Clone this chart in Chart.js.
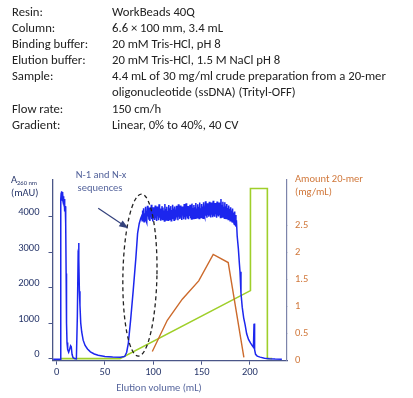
<!DOCTYPE html>
<html>
<head>
<meta charset="utf-8">
<script src="https://cdn.jsdelivr.net/npm/chart.js@4.4.1/dist/chart.umd.min.js"></script>
<style>
    html, body { margin: 0; padding: 0; background: #fff; }
    #page { position: relative; width: 413px; height: 398px; overflow: hidden; }
    #chart { position: absolute; left: 0; top: 0; }
    #conditions {
        position: absolute; left: 12px; top: 4px;
        font-family: Carlito, Lato, sans-serif; font-size: 12.7px; line-height: 16.1px; color: #222;
    }
    #conditions .row { display: flex; white-space: nowrap; }
    #conditions .label { width: 100px; flex: none; }
</style>
</head>
<body>
<div id="page">
    <canvas id="chart" width="413" height="398"></canvas>
    <div id="conditions"></div>
</div>
<script>
const conditions = [
    ['Resin:', 'WorkBeads 40Q'],
    ['Column:', '6.6 × 100 mm, 3.4 mL'],
    ['Binding buffer:', '20 mM Tris-HCl, pH 8'],
    ['Elution buffer:', '20 mM Tris-HCl, 1.5 M NaCl pH 8'],
    ['Sample:', '4.4 mL of 30 mg/ml crude preparation from a 20-mer'],
    ['', 'oligonucleotide (ssDNA) (Trityl-OFF)'],
    ['Flow rate:', '150 cm/h'],
    ['Gradient:', 'Linear, 0% to 40%, 40 CV']
];

const volumeTicks = [0, 50, 100, 150, 200];
const absorbanceTicks = [0, 1000, 2000, 3000, 4000];
const amountTicks = [0, 0.5, 1, 1.5, 2, 2.5];

// A260 trace, [mL, mAU]
const uvTrace = [
    [-3.5, -20], [3.8, -20], [4.2, 1200], [4.5, 4500], [4.8, 4680], [5.1, 4450], [5.4, 4720],
    [5.7, 4560], [6.0, 4700], [6.3, 4480], [6.6, 4650], [6.9, 4420], [7.2, 4580], [7.5, 4350],
    [7.8, 4500], [8.1, 4250], [8.4, 4420], [8.7, 4150], [9.0, 4300], [9.3, 4050], [9.6, 3800],
    [9.9, 2400], [10.3, 1000], [10.8, 450], [11.5, 250], [12.5, 180], [13.5, 260], [14.5, 360],
    [15.2, 330], [16.0, 120], [17.0, 30], [18.5, 0], [20.5, -10], [21.5, 1200], [22.3, 2900],
    [22.8, 3260], [23.2, 2800], [23.6, 1900], [24.2, 1500], [25.0, 1000], [26.0, 750],
    [27.5, 520], [29.5, 370], [32, 270], [35, 190], [39, 130], [43, 95], [50, 60], [58, 45],
    [66, 40], [70.5, 60], [72.5, 180], [74.2, 430], [76.6, 1090], [79.3, 1930], [82.1, 2870],
    [83.8, 3530], [85.5, 3810], [87, 3950],
    // plateau, noisy
    [88.0, 4020], [88.5, 3890], [89.0, 4180], [89.5, 3950], [90.0, 4240], [90.5, 3860],
    [91.0, 4100], [91.5, 3980], [92.0, 4280], [92.5, 3900], [93.0, 4150], [93.5, 3840],
    [94.0, 4310], [94.5, 4010], [95.0, 4200], [95.5, 3920], [96.0, 4260], [96.5, 3880],
    [97.0, 4120], [97.5, 3990], [98.0, 4340], [98.5, 3930], [99.0, 4190], [99.5, 3870],
    [100.0, 4270], [100.5, 4020], [101.0, 4150], [101.5, 3910], [102.0, 4320], [102.5, 3960],
    [103.0, 4210], [103.5, 3880], [104.0, 4290], [104.5, 4030], [105.0, 4170], [105.5, 3900],
    [106.0, 4350], [106.5, 3970], [107.0, 4230], [107.5, 3890], [108.0, 4140], [108.5, 3950],
    [109.0, 4300], [109.5, 3920], [110.0, 4260], [110.5, 4000], [111.0, 4180], [111.5, 3880],
    [112.0, 4360], [112.5, 3960], [113.0, 4220], [113.5, 3910], [114.0, 4280], [114.5, 4020],
    [115.0, 4160], [115.5, 3900], [116.0, 4330], [116.5, 3970], [117.0, 4240], [117.5, 3930],
    [118.0, 4300], [118.5, 3890], [119.0, 4190], [119.5, 4010], [120.0, 4340], [120.5, 3950],
    [121.0, 4230], [121.5, 3900], [122.0, 4290], [122.5, 4030], [123.0, 4170], [123.5, 3920],
    [124.0, 4310], [124.5, 3980], [125.0, 4250], [125.5, 3900], [126.0, 4350], [126.5, 4000],
    [127.0, 4200], [127.5, 3940], [128.0, 4320], [128.5, 3970], [129.0, 4230], [129.5, 3910],
    [130.0, 4290], [130.5, 4040], [131.0, 4180], [131.5, 3930], [132.0, 4360], [132.5, 3990],
    [133.0, 4240], [133.5, 3920], [134.0, 4380], [134.5, 4010], [135.0, 4210], [135.5, 3950],
    [136.0, 4300], [136.5, 3930], [137.0, 4260], [137.5, 4020], [138.0, 4340], [138.5, 3960],
    [139.0, 4220], [139.5, 3940], [140.0, 4370], [140.5, 4030], [141.0, 4250], [141.5, 3950],
    [142.0, 4330], [142.5, 4000], [143.0, 4270], [143.5, 3960], [144.0, 4390], [144.5, 4040],
    [145.0, 4230], [145.5, 3970], [146.0, 4350], [146.5, 4010], [147.0, 4280], [147.5, 3950],
    [148.0, 4400], [148.5, 4050], [149.0, 4240], [149.5, 3980], [150.0, 4360], [150.5, 4020],
    [151.0, 4290], [151.5, 3960], [152.0, 4410], [152.5, 4060], [153.0, 4250], [153.5, 3990],
    [154.0, 4440], [154.5, 4030], [155.0, 4300], [155.5, 3970], [156.0, 4380], [156.5, 4050],
    [157.0, 4270], [157.5, 4000], [158.0, 4420], [158.5, 4040], [159.0, 4310], [159.5, 3980],
    [160.0, 4400], [160.5, 4060], [161.0, 4260], [161.5, 3990], [162.0, 4450], [162.5, 4030],
    [163.0, 4320], [163.5, 4000], [164.0, 4390], [164.5, 4070], [165.0, 4280], [165.5, 3970],
    [166.0, 4430], [166.5, 4040], [167.0, 4310], [167.5, 4010], [168.0, 4400], [168.5, 4050],
    [169.0, 4290], [169.5, 3980], [170.0, 4500], [170.5, 4060], [171.0, 4330], [171.5, 3990],
    [172.0, 4420], [172.5, 4030], [173.0, 4280], [173.5, 3960], [174.0, 4410], [174.5, 4020],
    [175.0, 4300], [175.5, 3950], [176.0, 4360], [176.5, 3990], [177.0, 4250], [177.5, 3920],
    [178.0, 4320], [178.5, 3950], [179.0, 4220], [179.5, 3890], [180.0, 4270], [180.5, 3900],
    [181.0, 4180], [181.5, 3860], [182.0, 4230], [182.5, 3850], [183.0, 4120], [183.5, 3800],
    [184.0, 4150], [184.5, 3780], [185.0, 4050], [185.5, 3720], [186.0, 3900],
    // breakthrough drop and wash
    [186.8, 3450], [188, 3100], [189, 2700], [189.7, 2450], [190.7, 1850],
    [192, 1450], [193.5, 1150], [195, 950], [196.6, 700], [198.5, 540], [200.5, 440],
    [202.5, 360], [203.6, 320], [204.2, 980], [204.6, 990], [205.0, 250], [205.8, 120],
    [207.5, 70], [210.5, 40], [215, 10], [220, -5], [226, -15], [233, -20]
];

// Amount of 20-mer in fractions, [mL, mg/mL]
const amountTrace = [
    [99, 0.17], [114.5, 0.75], [130, 1.14], [147, 1.48], [162, 1.97], [177.5, 1.82], [193.7, 0.06]
];

// Elution buffer, [mL, %B]
const gradientTrace = [
    [4, 0], [65.5, 0], [200.5, 40], [200.5, 100], [218, 100], [218, 0], [223, 0]
];

const FONT = 'Carlito, Lato, sans-serif';
const AXIS_COLOR = '#4a5688';
const NAVY = '#27366a';
const ORANGE = '#d0773a';
const NOTE_COLOR = '#55649c';

document.getElementById('conditions').innerHTML = conditions
    .map(([label, value]) => `<div class="row"><span class="label">${label}</span><span>${value}</span></div>`)
    .join('');

const toPoints = (pairs) => pairs.map(([x, y]) => ({ x, y }));
const fixedTicks = (values) => (axis) => { axis.ticks = values.map(value => ({ value })); };
const plainLabel = (value) => String(value);

const annotationPlugin = {
    id: 'annotations',
    afterDatasetsDraw(chart) {
        const { ctx, scales } = chart;
        const x = scales.x;
        const y = scales.y;
        ctx.save();

        // dashed ellipse around the N-1 / N-x shoulder
        const cx = x.getPixelForValue(86.2);
        const cy = y.getPixelForValue(2355);
        const rx = x.getPixelForValue(86.2 + 17.6) - cx;
        const ry = cy - y.getPixelForValue(2355 + 2285);
        ctx.beginPath();
        ctx.setLineDash([4, 3]);
        ctx.lineWidth = 1.3;
        ctx.strokeStyle = '#222';
        ctx.ellipse(cx, cy, rx, ry, 0.02, 0, Math.PI * 2);
        ctx.stroke();
        ctx.setLineDash([]);

        // arrow
        const x0 = x.getPixelForValue(43.1), y0 = y.getPixelForValue(4237);
        const x1 = x.getPixelForValue(74.1), y1 = y.getPixelForValue(3673);
        const angle = Math.atan2(y1 - y0, x1 - x0);
        ctx.strokeStyle = '#34427c';
        ctx.fillStyle = '#34427c';
        ctx.lineWidth = 1.2;
        ctx.beginPath();
        ctx.moveTo(x0, y0);
        ctx.lineTo(x1 - 6 * Math.cos(angle), y1 - 6 * Math.sin(angle));
        ctx.stroke();
        ctx.beginPath();
        ctx.moveTo(x1, y1);
        ctx.lineTo(x1 - 9 * Math.cos(angle) + 3.5 * Math.sin(angle), y1 - 9 * Math.sin(angle) - 3.5 * Math.cos(angle));
        ctx.lineTo(x1 - 9 * Math.cos(angle) - 3.5 * Math.sin(angle), y1 - 9 * Math.sin(angle) + 3.5 * Math.cos(angle));
        ctx.closePath();
        ctx.fill();

        ctx.textBaseline = 'middle';
        ctx.font = `10.5px ${FONT}`;
        ctx.fillStyle = NOTE_COLOR;
        ctx.textAlign = 'center';
        ctx.fillText('N-1 and N-x', 101, 175);
        ctx.fillText('sequences', 100, 188);

        // x title
        ctx.fillText('Elution volume (mL)', 159, 388);

        // left title with subscript
        ctx.textAlign = 'left';
        ctx.fillStyle = NAVY;
        ctx.font = `10.5px ${FONT}`;
        ctx.fillText('A', 11, 180);
        const aWidth = ctx.measureText('A').width;
        ctx.font = `6.5px ${FONT}`;
        ctx.fillText('260 nm', 11 + aWidth, 183);
        ctx.font = `10.5px ${FONT}`;
        ctx.fillText('(mAU)', 11, 193);

        // right title
        ctx.fillStyle = ORANGE;
        ctx.fillText('Amount 20-mer', 295, 179);
        ctx.fillText('(mg/mL)', 295, 192);

        ctx.restore();
    }
};

const axisGrid = { display: true, drawOnChartArea: false, drawTicks: true, tickLength: 4, color: AXIS_COLOR };
const axisBorder = { display: true, color: AXIS_COLOR, width: 1.3 };

new Chart(document.getElementById('chart'), {
    type: 'line',
    data: {
        datasets: [
            {
                label: 'A260',
                data: toPoints(uvTrace),
                yAxisID: 'y',
                borderColor: '#1c26ee',
                borderWidth: 1.5,
                pointRadius: 0,
                tension: 0,
                order: 0
            },
            {
                label: 'Amount 20-mer',
                data: toPoints(amountTrace),
                yAxisID: 'yR',
                borderColor: '#cc6a2c',
                borderWidth: 1.4,
                pointRadius: 0,
                tension: 0,
                order: 1
            },
            {
                label: '% B',
                data: toPoints(gradientTrace),
                yAxisID: 'yB',
                borderColor: '#9fcf2a',
                borderWidth: 1.6,
                pointRadius: 0,
                tension: 0,
                order: 2
            }
        ]
    },
    options: {
        responsive: false,
        animation: false,
        devicePixelRatio: 1,
        layout: { padding: { top: 180, left: 0, right: 0, bottom: 0 } },
        plugins: {
            legend: { display: false },
            tooltip: { enabled: false },
            title: { display: false }
        },
        scales: {
            x: {
                type: 'linear',
                position: 'bottom',
                min: -4.2,
                max: 238.3,
                afterBuildTicks: fixedTicks(volumeTicks),
                afterFit: (axis) => { axis.height = 37.3; },
                grid: axisGrid,
                border: axisBorder,
                ticks: { padding: 1, color: NAVY, callback: plainLabel, font: { family: FONT, size: 10.5 } }
            },
            y: {
                position: 'left',
                min: -60,
                max: 5037,
                afterBuildTicks: fixedTicks(absorbanceTicks),
                afterFit: (axis) => { axis.width = 52.5; },
                grid: axisGrid,
                border: axisBorder,
                ticks: { padding: 9, labelOffset: -4, color: NAVY, callback: plainLabel, font: { family: FONT, size: 10.5 } }
            },
            yR: {
                position: 'right',
                min: 0,
                max: 3.35,
                afterBuildTicks: fixedTicks(amountTicks),
                afterFit: (axis) => { axis.width = 126; },
                grid: { ...axisGrid, tickLength: 0 },
                border: { display: true, color: '#7c84aa', width: 1.2 },
                ticks: { padding: 8, color: ORANGE, callback: plainLabel, font: { family: FONT, size: 10.5 } }
            },
            yB: {
                display: false,
                min: -1.2,
                max: 105
            }
        }
    },
    plugins: [annotationPlugin]
});
</script>
</body>
</html>
